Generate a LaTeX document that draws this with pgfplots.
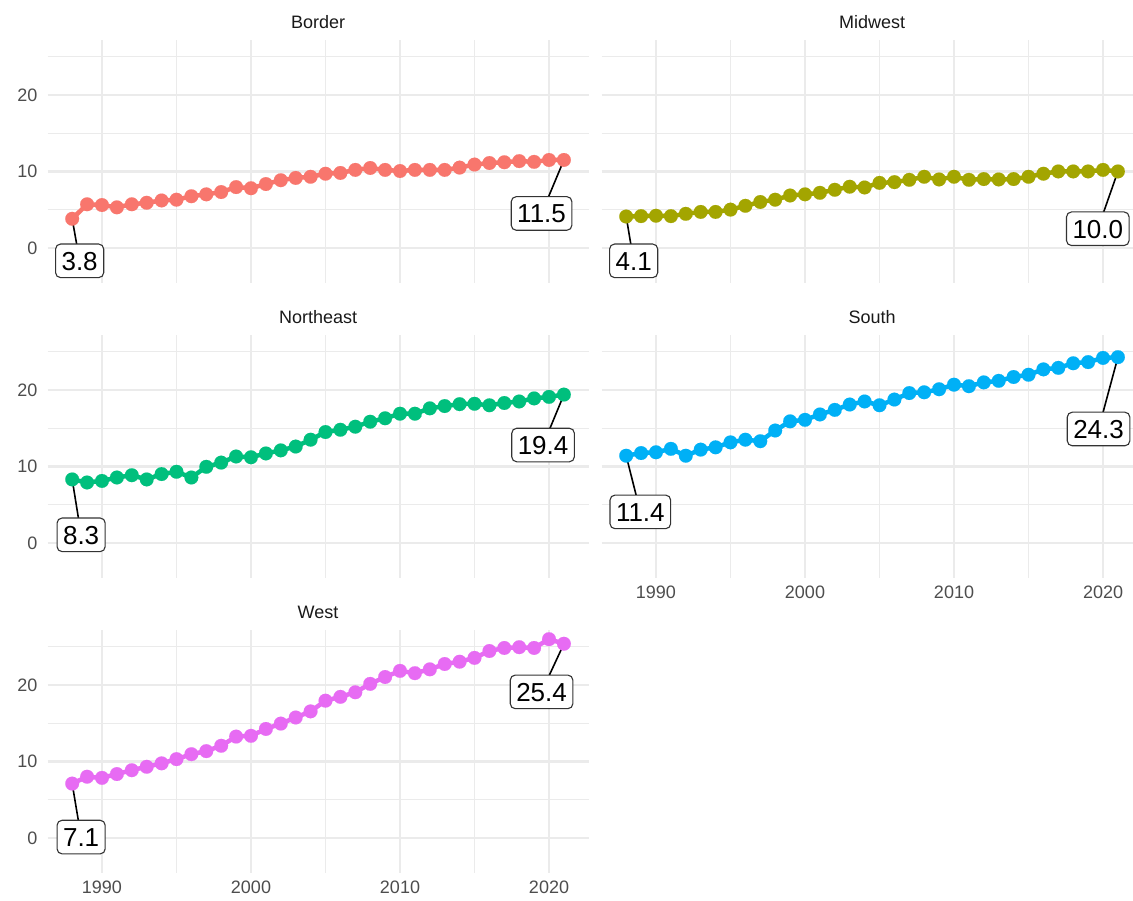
\documentclass[border=0pt]{standalone}
\usepackage{pgfplots}
\pgfplotsset{compat=1.18}
\usepackage{fontspec}
\setmainfont{Liberation Sans}
\definecolor{cB}{HTML}{F8766D}
\definecolor{cM}{HTML}{A3A500}
\definecolor{cN}{HTML}{00BF7D}
\definecolor{cS}{HTML}{00B0F6}
\definecolor{cW}{HTML}{E76BF3}
\definecolor{gridc}{HTML}{EBEBEB}
\definecolor{tickc}{HTML}{4D4D4D}
\pgfplotsset{
  panel/.style={
    scale only axis, width=540.9pt, height=243pt,
    xmin=1986.35, xmax=2022.65, ymin=-4.6, ymax=27.2,
    axis line style={draw=none},
    xtick={1990,2000,2010,2020}, minor xtick={1995,2005,2015},
    ytick={0,10,20}, minor ytick={5,15,25},
    grid=both,
    major grid style={gridc, line width=2.2pt},
    minor grid style={gridc, line width=1.2pt},
    tick style={draw=none}, major tick length=0pt, minor tick length=0pt,
    ticklabel style={font=\fontsize{18}{21}\selectfont, text=tickc, inner sep=0pt},
    yticklabel style={anchor=east, xshift=-10pt},
    xticklabel style={anchor=north, yshift=-8pt},
    xticklabels={1990,2000,2010,2020}, yticklabels={0,10,20},
    title style={at={(0.5,1)}, anchor=base, yshift=5pt, font=\fontsize{18}{21}\selectfont, text=black!90},
    clip=false,
  },
  series/.style={color=#1, line width=4.5pt, mark=*, mark size=6.9pt,
    mark options={solid, fill=#1, draw=#1, line width=0.1pt}},
}
\tikzset{
  lab/.style={draw=black!80, fill=white, rounded corners=5pt, line width=1.1pt,
    inner xsep=6pt, inner ysep=7.5pt, font=\fontsize{26}{30}\selectfont,
    text height=18.6pt, text depth=0pt, text=black},
  seg/.style={black, line width=1.6pt},
}
\begin{document}
\begin{tikzpicture}
\path[use as bounding box] (0,0) rectangle (1133pt,900pt);

% Border
\begin{axis}[panel, at={(47.6pt,617pt)}, anchor=south west, title={Border}, xticklabels={}]
\addplot[series=cB] coordinates {
(1988,3.8) (1989,5.7) (1990,5.6) (1991,5.3) (1992,5.7) (1993,5.9) (1994,6.2) (1995,6.3)
(1996,6.75) (1997,7.0) (1998,7.3) (1999,7.95) (2000,7.8) (2001,8.35) (2002,8.85) (2003,9.15)
(2004,9.3) (2005,9.7) (2006,9.8) (2007,10.2) (2008,10.45) (2009,10.2) (2010,10.05) (2011,10.2)
(2012,10.2) (2013,10.2) (2014,10.5) (2015,10.9) (2016,11.1) (2017,11.2) (2018,11.35) (2019,11.25)
(2020,11.5) (2021,11.5)};
\draw[seg] (axis cs:1988,3.8) -- (axis cs:1988.5,-1.7);
\node[lab] at (axis cs:1988.5,-1.7) {3.8};
\draw[seg] (axis cs:2021,11.5) -- (axis cs:2019.5,4.5);
\node[lab] at (axis cs:2019.5,4.5) {11.5};
\end{axis}

% Midwest
\begin{axis}[panel, at={(601.6pt,617pt)}, anchor=south west, title={Midwest}, xticklabels={}, yticklabels={}]
\addplot[series=cM] coordinates {
(1988,4.1) (1989,4.15) (1990,4.2) (1991,4.15) (1992,4.45) (1993,4.7) (1994,4.7) (1995,5.0)
(1996,5.5) (1997,6.0) (1998,6.3) (1999,6.85) (2000,7.0) (2001,7.2) (2002,7.6) (2003,8.0)
(2004,7.9) (2005,8.5) (2006,8.6) (2007,8.9) (2008,9.3) (2009,8.95) (2010,9.3) (2011,8.9)
(2012,9.0) (2013,8.95) (2014,9.0) (2015,9.3) (2016,9.7) (2017,10.0) (2018,10.0) (2019,10.0)
(2020,10.2) (2021,10.0)};
\draw[seg] (axis cs:1988,4.1) -- (axis cs:1988.5,-1.7);
\node[lab] at (axis cs:1988.5,-1.7) {4.1};
\draw[seg] (axis cs:2021,10.0) -- (axis cs:2019.65,2.5);
\node[lab] at (axis cs:2019.65,2.5) {10.0};
\end{axis}

% Northeast
\begin{axis}[panel, at={(47.6pt,322pt)}, anchor=south west, title={Northeast}, xticklabels={}]
\addplot[series=cN] coordinates {
(1988,8.3) (1989,7.9) (1990,8.1) (1991,8.55) (1992,8.85) (1993,8.3) (1994,9.0) (1995,9.3)
(1996,8.55) (1997,9.95) (1998,10.5) (1999,11.3) (2000,11.2) (2001,11.7) (2002,12.1) (2003,12.6)
(2004,13.5) (2005,14.5) (2006,14.8) (2007,15.2) (2008,15.85) (2009,16.3) (2010,16.9) (2011,16.9)
(2012,17.6) (2013,17.9) (2014,18.15) (2015,18.2) (2016,18.0) (2017,18.3) (2018,18.5) (2019,18.9)
(2020,19.1) (2021,19.4)};
\draw[seg] (axis cs:1988,8.3) -- (axis cs:1988.6,1.05);
\node[lab] at (axis cs:1988.6,1.05) {8.3};
\draw[seg] (axis cs:2021,19.4) -- (axis cs:2019.6,12.8);
\node[lab] at (axis cs:2019.6,12.8) {19.4};
\end{axis}

% South
\begin{axis}[panel, at={(601.6pt,322pt)}, anchor=south west, title={South}, yticklabels={}]
\addplot[series=cS] coordinates {
(1988,11.4) (1989,11.75) (1990,11.85) (1991,12.3) (1992,11.4) (1993,12.2) (1994,12.5) (1995,13.15)
(1996,13.5) (1997,13.3) (1998,14.7) (1999,15.9) (2000,16.1) (2001,16.8) (2002,17.4) (2003,18.1)
(2004,18.5) (2005,18.0) (2006,18.75) (2007,19.6) (2008,19.7) (2009,20.1) (2010,20.7) (2011,20.5)
(2012,21.0) (2013,21.2) (2014,21.7) (2015,22.0) (2016,22.7) (2017,22.9) (2018,23.5) (2019,23.65)
(2020,24.2) (2021,24.3)};
\draw[seg] (axis cs:1988,11.4) -- (axis cs:1988.95,4.05);
\node[lab] at (axis cs:1988.95,4.05) {11.4};
\draw[seg] (axis cs:2021,24.3) -- (axis cs:2019.7,14.9);
\node[lab] at (axis cs:2019.7,14.9) {24.3};
\end{axis}

% West
\begin{axis}[panel, at={(47.6pt,27pt)}, anchor=south west, title={West}]
\addplot[series=cW] coordinates {
(1988,7.1) (1989,8.0) (1990,7.85) (1991,8.35) (1992,8.85) (1993,9.3) (1994,9.75) (1995,10.3)
(1996,10.95) (1997,11.35) (1998,12.05) (1999,13.25) (2000,13.35) (2001,14.25) (2002,14.95) (2003,15.75)
(2004,16.55) (2005,17.95) (2006,18.45) (2007,19.05) (2008,20.15) (2009,21.05) (2010,21.85) (2011,21.55)
(2012,22.05) (2013,22.75) (2014,23.05) (2015,23.55) (2016,24.45) (2017,24.85) (2018,24.95) (2019,24.85)
(2020,26.0) (2021,25.4)};
\draw[seg] (axis cs:1988,7.1) -- (axis cs:1988.6,0.1);
\node[lab] at (axis cs:1988.6,0.1) {7.1};
\draw[seg] (axis cs:2021,25.4) -- (axis cs:2019.5,19.1);
\node[lab] at (axis cs:2019.5,19.1) {25.4};
\end{axis}
\end{tikzpicture}
\end{document}
